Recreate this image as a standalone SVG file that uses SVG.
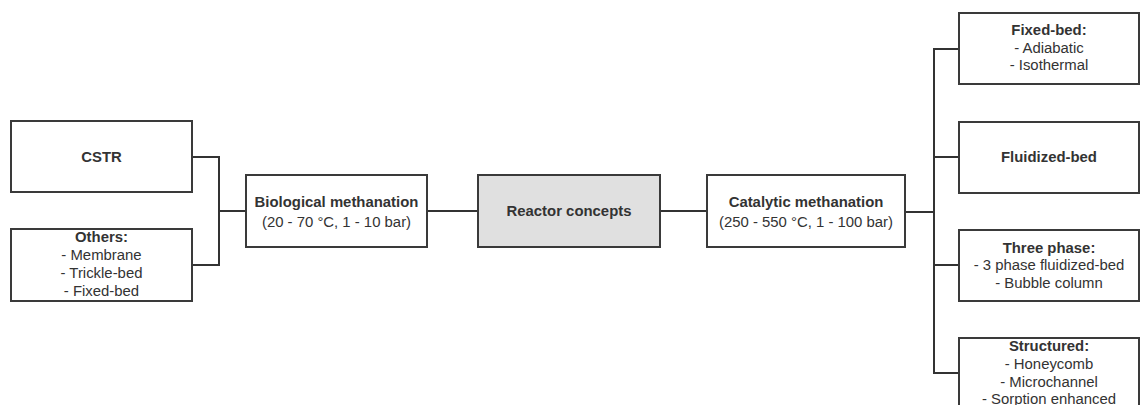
<svg xmlns="http://www.w3.org/2000/svg" width="1140" height="405" viewBox="0 0 1140 405">
  <style>
    .box { fill: #ffffff; stroke: #3a3a3a; stroke-width: 2; }
    .root { fill: #e0e0e0; }
    .link { fill: none; stroke: #333333; stroke-width: 2; }
    text { font-family: "Liberation Sans", Arial, sans-serif; font-size: 14.9px; fill: #333333; text-anchor: middle; }
    .b { font-weight: bold; }
  </style>

  <!-- connectors -->
  <g id="connectors">
    <path class="link" d="M192,157 H219 V265 H192"/>
    <path class="link" d="M219,211 H246"/>
    <path class="link" d="M427,211 H478"/>
    <path class="link" d="M660,211 H707"/>
    <path class="link" d="M905,212 H934"/>
    <path class="link" d="M959,49 H934 V373 H959"/>
    <path class="link" d="M934,157 H959"/>
    <path class="link" d="M934,265 H959"/>
  </g>

  <g id="cstr">
    <rect class="box" x="11" y="121" width="181" height="71"/>
    <text class="b" x="101.5" y="162">CSTR</text>
  </g>

  <g id="others">
    <rect class="box" x="11" y="229" width="181" height="72"/>
    <text class="b" x="101.5" y="242">Others:</text>
    <text x="101.5" y="260">- Membrane</text>
    <text x="101.5" y="278">- Trickle-bed</text>
    <text x="101.5" y="296">- Fixed-bed</text>
  </g>

  <g id="biological">
    <rect class="box" x="246" y="175" width="181" height="72"/>
    <text class="b" x="336.5" y="207">Biological methanation</text>
    <text x="336.5" y="226.5">(20 - 70 °C, 1 - 10 bar)</text>
  </g>

  <g id="reactor-concepts">
    <rect class="box root" x="478" y="175" width="182" height="72"/>
    <text class="b" x="569" y="215.5">Reactor concepts</text>
  </g>

  <g id="catalytic">
    <rect class="box" x="707" y="175" width="198" height="72"/>
    <text class="b" x="806" y="207">Catalytic methanation</text>
    <text x="806" y="226.5">(250 - 550 °C, 1 - 100 bar)</text>
  </g>

  <g id="fixed-bed">
    <rect class="box" x="959" y="13" width="180" height="71"/>
    <text class="b" x="1049" y="35">Fixed-bed:</text>
    <text x="1049" y="52.5">- Adiabatic</text>
    <text x="1049" y="70">- Isothermal</text>
  </g>

  <g id="fluidized-bed">
    <rect class="box" x="959" y="122" width="180" height="71"/>
    <text class="b" x="1049" y="162">Fluidized-bed</text>
  </g>

  <g id="three-phase">
    <rect class="box" x="959" y="230" width="180" height="71"/>
    <text class="b" x="1049" y="252.5">Three phase:</text>
    <text x="1049" y="270">- 3 phase fluidized-bed</text>
    <text x="1049" y="287.5">- Bubble column</text>
  </g>

  <g id="structured">
    <rect class="box" x="959" y="338" width="180" height="80"/>
    <text class="b" x="1049" y="351">Structured:</text>
    <text x="1049" y="369">- Honeycomb</text>
    <text x="1049" y="386.5">- Microchannel</text>
    <text x="1049" y="404">- Sorption enhanced</text>
  </g>
</svg>
